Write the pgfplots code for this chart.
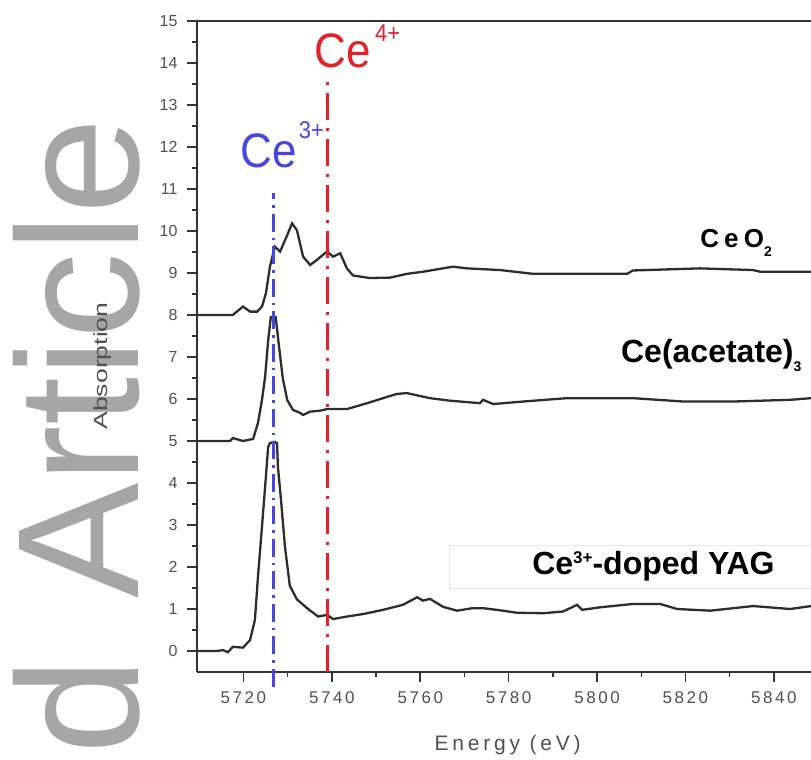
\documentclass[border=0pt]{standalone}
\usepackage{fontspec}
\setmainfont{Liberation Sans}
\usepackage{graphicx}
\usepackage{pgfplots}
\pgfplotsset{compat=1.18}
\definecolor{wm}{RGB}{166,166,166}
\definecolor{cered}{RGB}{228,32,40}
\definecolor{ceblue}{RGB}{70,70,225}
\definecolor{curve}{RGB}{45,45,45}
\definecolor{tk}{RGB}{80,80,80}
\begin{document}
\begin{tikzpicture}[x=1pt,y=1pt]
\useasboundingbox (0,0) rectangle (811,760);
\node[rotate=90, anchor=base east, inner sep=0pt, text=wm, font=\fontsize{173}{173}\selectfont] at (138,642) {Article};
\node[rotate=90, anchor=base east, inner sep=0pt, text=wm, font=\fontsize{173}{173}\selectfont] at (138,102) {d};
\begin{axis}[
  at={(197pt,88pt)}, anchor=south west,
  scale only axis, width=614pt, height=651pt,
  xmin=5709.5, xmax=5848.4, ymin=-0.5, ymax=15,
  axis x line=box, axis y line=left,
  xtick pos=bottom, ytick pos=left,
  x axis line style={-}, y axis line style={-},
  axis line style={line width=1.8pt, black!80},
  tick align=outside,
  major tick length=10pt, minor tick length=5pt,
  tick style={line width=1.5pt, black!80},
  xtick={5720,5740,...,5840}, minor x tick num=1,
  ytick={0,1,...,15}, minor y tick num=1,
  /pgf/number format/1000 sep={},
  /pgf/number format/assume math mode=true,
  xticklabel style={font=\fontsize{17}{17}\selectfont\addfontfeature{LetterSpace=15}, text=tk, yshift=-6pt},
  yticklabel style={font=\fontsize{16}{16}\selectfont, text=tk, xshift=-6pt},
  xlabel={Energy (eV)},
  xlabel style={at={(axis description cs:0.506,-0.112)}, anchor=center, font=\fontsize{21}{21}\selectfont\addfontfeature{LetterSpace=18}, text=tk},
  ylabel={\scalebox{1.4}[1]{Absorption}},
  ylabel style={at={(axis description cs:-0.153,0.47)}, anchor=center, font=\fontsize{19}{19}\selectfont, text=tk},
  clip=false,
]
% Ce3+-doped YAG
\addplot[curve, line width=2.3pt] coordinates {
(5709.5,0) (5714.0,0) (5715.4,0.02) (5716.5,-0.03) (5717.6,0.1) (5719.9,0.08)
(5721.5,0.26) (5722.6,0.74) (5723.3,1.78) (5724.2,2.96) (5724.9,3.9) (5725.6,4.86)
(5726.0,4.95) (5727.0,4.98) (5727.6,4.95) (5727.8,4.4) (5728.5,3.6) (5729.4,2.48)
(5730.5,1.55) (5732.1,1.23) (5734.4,1.02) (5736.9,0.82) (5738.9,0.86) (5740.3,0.76)
(5743.4,0.82) (5747.1,0.88) (5751.6,0.98) (5756.1,1.1) (5759.3,1.28) (5760.6,1.2)
(5762.2,1.24) (5765.2,1.05) (5768.3,0.96) (5771.9,1.02) (5774.2,1.02) (5778,0.97)
(5781.9,0.91) (5787.8,0.9) (5792.3,0.94) (5795.5,1.1) (5796.6,0.98) (5800.7,1.04)
(5808.1,1.12) (5814.3,1.12) (5818.1,1.0) (5825.6,0.96) (5835.3,1.07) (5843.7,1.0)
(5848.4,1.07)};
% Ce(acetate)3
\addplot[curve, line width=2.3pt] coordinates {
(5709.5,5.0) (5717.0,5.0) (5717.6,5.07) (5719.9,5.0) (5722.2,5.05) (5723.3,5.43)
(5724.2,5.98) (5724.9,6.52) (5725.6,7.4) (5726.2,7.95) (5727.3,7.95) (5728.0,7.3)
(5728.9,6.5) (5729.9,5.98) (5731.2,5.74) (5732.8,5.67) (5733.5,5.62) (5735.1,5.7)
(5737.3,5.72) (5738.9,5.76) (5743.4,5.76) (5748.0,5.9) (5752.5,6.05) (5754.7,6.12)
(5757.0,6.14) (5762.2,6.02) (5766.7,5.96) (5773.5,5.9) (5774.2,5.98) (5776.5,5.88)
(5783.3,5.94) (5793.2,6.02) (5808.1,6.02) (5819.5,5.94) (5830.8,5.94) (5843.7,5.98)
(5848.4,6.02)};
% CeO2
\addplot[curve, line width=2.3pt] coordinates {
(5709.5,8.0) (5717.6,8.0) (5719.9,8.2) (5721.5,8.08) (5723.1,8.08) (5724.2,8.2)
(5725.1,8.52) (5726.0,9.15) (5727.1,9.63) (5728.3,9.51) (5729.9,9.9) (5731.0,10.18)
(5732.1,10.02) (5733.5,9.39) (5735.1,9.19) (5736.6,9.31) (5738.9,9.51) (5740.3,9.39)
(5741.9,9.47) (5743.4,9.11) (5744.8,8.94) (5748.6,8.88) (5753.2,8.89) (5757.0,8.98)
(5760.6,9.03) (5767.4,9.15) (5770.6,9.11) (5778.1,9.07) (5785.5,8.98) (5806.8,8.98)
(5808.1,9.06) (5823.3,9.11) (5835.3,9.07) (5836.9,9.03) (5848.4,9.03)};
% reference lines
\addplot[ceblue, line width=2.2pt, dash pattern=on 18pt off 6pt on 2.5pt off 6pt] coordinates {(5726.8,-0.85) (5726.8,10.9)};
\addplot[cered, line width=3pt, dash pattern=on 27pt off 8pt on 3pt off 8pt] coordinates {(5739,-0.5) (5739,13.6)};
% labels
\node[anchor=base west, inner sep=0pt, text=ceblue, font=\fontsize{44}{44}\selectfont] at (axis cs:5719.3,11.52) {\scalebox{1}[1.1]{Ce\hspace{2pt}\raisebox{26pt}{\fontsize{22}{22}\selectfont 3+}}};
\node[anchor=base west, inner sep=0pt, text=cered, font=\fontsize{44}{44}\selectfont] at (axis cs:5736.1,13.9) {\scalebox{1}[1.1]{Ce\hspace{4pt}\raisebox{23pt}{\fontsize{22}{22}\selectfont 4+}}};
\node[anchor=base west, inner sep=0pt, font=\fontsize{26}{26}\selectfont\bfseries\addfontfeature{LetterSpace=20}] at (axis cs:5823.3,9.6) {CeO\raisebox{-9pt}{\fontsize{14}{14}\selectfont 2}};
\node[anchor=base west, inner sep=0pt, font=\fontsize{32}{32}\selectfont\bfseries] at (axis cs:5805.4,6.86) {Ce(acetate)\raisebox{-9pt}{\fontsize{14}{14}\selectfont 3}};
\draw[black!10, line width=0.8pt] (axis cs:5766.7,1.5) rectangle (axis cs:5851,2.52);
\node[anchor=base west, inner sep=0pt, font=\fontsize{32}{32}\selectfont\bfseries] at (axis cs:5785.3,1.81) {Ce\raisebox{11pt}{\fontsize{17}{17}\selectfont 3+}-doped YAG};
\end{axis}
\end{tikzpicture}
\end{document}
